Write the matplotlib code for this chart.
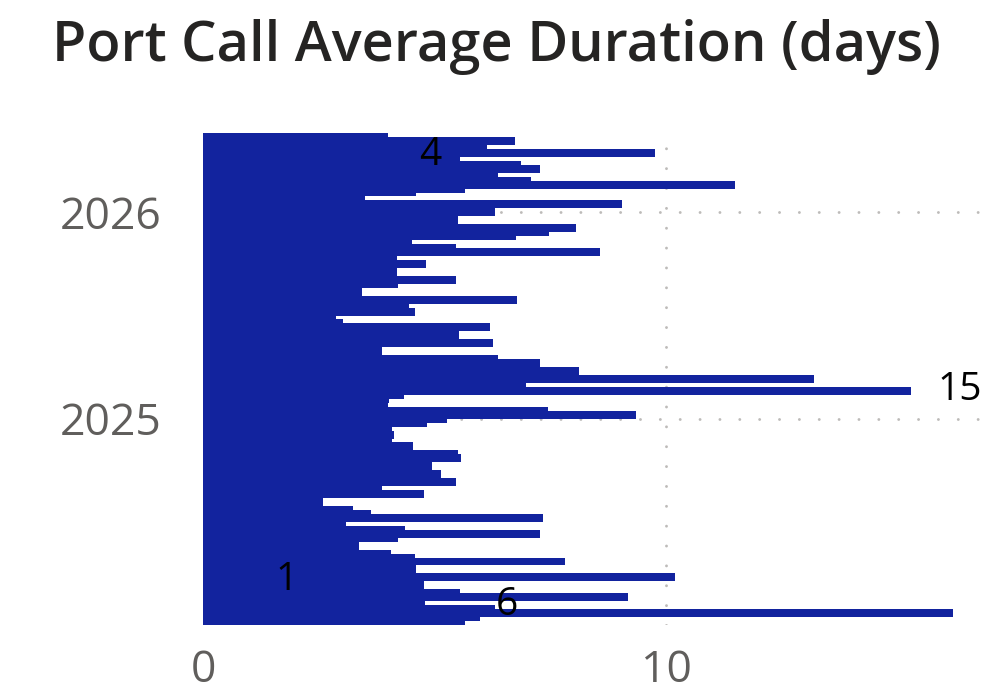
import numpy as np
import pandas as pd
import matplotlib
matplotlib.use("Agg")
import matplotlib.pyplot as plt
import matplotlib.dates as mdates

# weekly average port call duration (days), oldest week first
week_start = pd.date_range("2024-01-03", periods=124, freq="7D")
avg_days = [
    5.66, 5.98, 16.2, 16.2, 6.30, 4.79, 9.17, 9.17, 5.55, 4.77,
    4.77, 10.19, 10.19, 4.60, 4.60, 7.81, 7.81, 4.58, 4.06, 3.37,
    3.37, 4.21, 7.27, 7.27, 4.36, 3.09, 7.34, 7.34, 3.63, 3.24,
    2.59, 2.59, 4.77, 4.77, 3.86, 5.46, 5.46, 5.14, 5.14, 4.94,
    4.94, 5.57, 5.57, 5.50, 4.53, 4.53, 4.08, 4.12, 4.12, 4.08,
    4.83, 5.27, 9.35, 9.35, 7.45, 3.99, 4.01, 4.34, 15.3, 15.3,
    6.97, 13.2, 13.2, 8.12, 8.12, 7.29, 7.29, 6.37, 3.86, 3.86,
    6.26, 6.26, 5.53, 5.53, 6.19, 6.19, 3.02, 2.87, 4.58, 4.58,
    4.45, 6.78, 6.78, 3.43, 3.43, 4.21, 5.46, 5.46, 4.19, 4.19,
    4.81, 4.81, 4.19, 8.57, 8.57, 5.46, 4.51, 6.76, 7.47, 8.05,
    8.05, 5.50, 5.50, 6.30, 6.30, 9.04, 9.04, 3.50, 4.60, 5.66,
    11.5, 11.5, 7.08, 6.37, 7.27, 7.27, 6.86, 5.55, 9.76, 9.76,
    6.13, 6.75, 6.75, 3.99,
]

# data labels shown on the chart
label_text = ["4", "15", "1", "6"]
label_dates = pd.to_datetime(["2026-04-11", "2025-02-20", "2024-03-22", "2024-02-07"])
label_x = [4.9, 16.35, 1.81, 6.57]

bar_color = "#12239E"
grid_color = "#BDBBB9"
tick_color = "#605E5C"
plt.rcParams["font.family"] = ["Open Sans", "DejaVu Sans"]

fig = plt.figure(figsize=(9.84, 6.92), dpi=100)
ax = fig.add_axes([0.2063, 0.0968, 0.7937, 0.711])

y = mdates.date2num(week_start)
ax.barh(y, avg_days, height=7, align="edge", color=bar_color, linewidth=0, zorder=2)

for t, d, xv in zip(label_text, label_dates, label_x):
    ax.text(xv, mdates.date2num(d), t, ha="center", va="center",
            fontsize=28, color="black", zorder=3, clip_on=False)

ax.set_xlim(0, 16.87)
ax.set_ylim(y[0], y[-1] + 7)
ax.yaxis_date()
ax.yaxis.set_major_locator(mdates.YearLocator())
ax.yaxis.set_major_formatter(mdates.DateFormatter("%Y"))
ax.set_xticks([0, 10])

ax.grid(True, color=grid_color, linestyle=(0, (0.01, 6.8)), linewidth=2.1,
        dash_capstyle="round", zorder=1)
ax.set_axisbelow(True)
for s in ax.spines.values():
    s.set_visible(False)
ax.tick_params(axis="both", length=0, labelsize=32, labelcolor=tick_color)
ax.tick_params(axis="y", pad=30)
ax.tick_params(axis="x", pad=17)

fig.text(0.053, 0.932, "Port Call Average Duration (days)", fontsize=40.2,
         fontweight="semibold", color="#252423", ha="left", va="center")

fig.savefig("out.png", dpi=100)
